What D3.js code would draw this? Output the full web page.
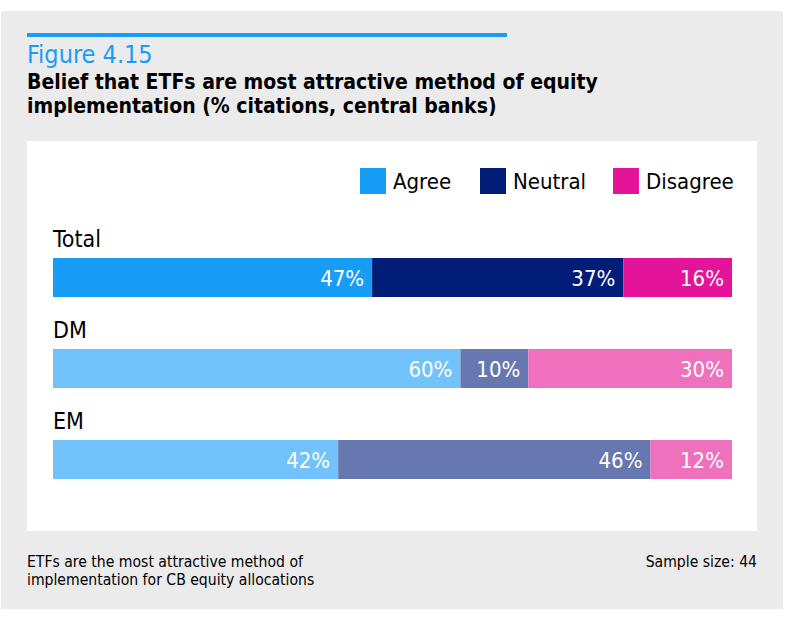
<!DOCTYPE html>
<html>
<head>
<meta charset="utf-8">
<script src="https://cdn.jsdelivr.net/npm/d3@7/dist/d3.min.js"></script>
<style>
  html, body { margin: 0; padding: 0; background: #ffffff; }
  svg { display: block; }
  text { font-family: "Liberation Sans Narrow", "DejaVu Sans Condensed", Roboto, sans-serif; }
</style>
</head>
<body>
<svg id="chart" width="800" height="626"></svg>
<script>
const categories = ["Total", "DM", "EM"];
const seriesNames = ["Agree", "Neutral", "Disagree"];
const agree = [47, 60, 42];
const neutral = [37, 10, 46];
const disagree = [16, 30, 12];
const totalColors = ["#189df7", "#011d78", "#e3149a"];
const subColors = ["#72c2fb", "#6777b0", "#ef71bd"];

const svg = d3.select("#chart");

// panels
svg.append("rect").attr("x", 1).attr("y", 11).attr("width", 782).attr("height", 598).attr("fill", "#ebebeb");
svg.append("rect").attr("x", 27).attr("y", 141).attr("width", 730).attr("height", 390).attr("fill", "#ffffff");
svg.append("rect").attr("x", 27).attr("y", 33).attr("width", 480).attr("height", 4).attr("fill", "#189df7");

// titles
svg.append("text").attr("x", 27).attr("y", 63).attr("font-size", 25).attr("fill", "#189df7").text("Figure 4.15");
svg.append("text").attr("x", 27).attr("y", 89).attr("font-size", 21).attr("font-weight", "bold").attr("fill", "#000").text("Belief that ETFs are most attractive method of equity");
svg.append("text").attr("x", 27).attr("y", 113).attr("font-size", 21).attr("font-weight", "bold").attr("fill", "#000").text("implementation (% citations, central banks)");

// legend
const legendX = [360, 480, 613];
const lg = svg.append("g");
seriesNames.forEach((s, i) => {
  lg.append("rect").attr("x", legendX[i]).attr("y", 168).attr("width", 26).attr("height", 26).attr("fill", totalColors[i]);
  lg.append("text").attr("x", legendX[i] + 33).attr("y", 189).attr("font-size", 22).attr("fill", "#000").text(s);
});

// scales
const x = d3.scaleLinear().domain([0, 100]).range([53, 732]);
const y = d3.scaleBand().domain(categories).range([230, 503]).paddingInner(0).paddingOuter(0);
const barTopOffset = 28, barH = 39;

const rows = categories.map((c, i) => {
  const vals = [agree[i], neutral[i], disagree[i]];
  let acc = 0;
  return { cat: c, idx: i, segs: vals.map((v, j) => { const s = { v, j, x0: acc, x1: acc + v }; acc += v; return s; }) };
});

const g = svg.selectAll("g.row").data(rows).enter().append("g").attr("class", "row")
  .attr("transform", d => `translate(0,${y(d.cat)})`);

g.append("text").attr("x", 53).attr("y", 17).attr("font-size", 23).attr("fill", "#000").text(d => d.cat);

const seg = g.selectAll("g.seg").data(d => d.segs.map(s => ({ ...s, row: d.idx }))).enter().append("g").attr("class", "seg");
seg.append("rect")
  .attr("x", d => x(d.x0)).attr("y", barTopOffset)
  .attr("width", d => x(d.x1) - x(d.x0)).attr("height", barH)
  .attr("fill", d => d.row === 0 ? totalColors[d.j] : subColors[d.j]);
seg.append("text")
  .attr("x", d => x(d.x1) - 8).attr("y", barTopOffset + 28)
  .attr("text-anchor", "end").attr("font-size", 22).attr("fill", "#fff")
  .text(d => d.v + "%");

// footer
svg.append("text").attr("x", 27).attr("y", 567).attr("font-size", 15.6).attr("fill", "#000").text("ETFs are the most attractive method of");
svg.append("text").attr("x", 27).attr("y", 585).attr("font-size", 15.6).attr("fill", "#000").text("implementation for CB equity allocations");
svg.append("text").attr("x", 757).attr("y", 567).attr("text-anchor", "end").attr("font-size", 15.6).attr("fill", "#000").text("Sample size: 44");
</script>
</body>
</html>
